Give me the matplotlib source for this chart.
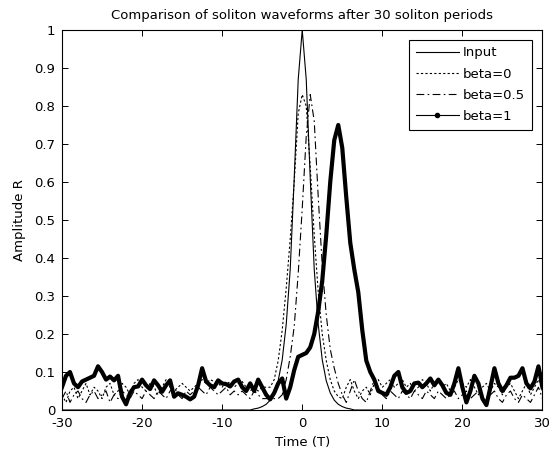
import matplotlib
matplotlib.use("Agg")
import matplotlib.pyplot as plt
from matplotlib.lines import Line2D
import numpy as np

plt.rcParams['font.family'] = ['DejaVu Sans']

# time axis, -30..30 in steps of 0.5
time = np.linspace(-30, 30, 121)

# values, one row per 5 time units
input_pulse = [
    0, 0, 0, 0, 0, 0, 0, 0, 0, 0,
    0, 0, 0, 0, 0, 0, 0, 0, 0, 0,
    0, 0, 0, 0, 0, 0, 0, 0, 0, 0,
    0, 0, 0, 0, 0, 0, 0, 0, 0, 0,
    0, 0, 0, 0, 0, 0, 0, 0.0, 0.003, 0.005,
    0.009, 0.015, 0.026, 0.045, 0.077, 0.132, 0.225, 0.37, 0.61, 0.87,
    1.0, 0.87, 0.61, 0.37, 0.225, 0.132, 0.077, 0.045, 0.026, 0.015,
    0.009, 0.005, 0.003, 0.0, 0, 0, 0, 0, 0, 0,
    0, 0, 0, 0, 0, 0, 0, 0, 0, 0,
    0, 0, 0, 0, 0, 0, 0, 0, 0, 0,
    0, 0, 0, 0, 0, 0, 0, 0, 0, 0,
    0, 0, 0, 0, 0, 0, 0, 0, 0, 0,
    0,
]

beta0 = [
    0.04, 0.02, 0.05, 0.06, 0.03, 0.05, 0.07, 0.04, 0.06, 0.05,
    0.03, 0.06, 0.07, 0.04, 0.05, 0.07, 0.06, 0.04, 0.07, 0.08,
    0.06, 0.05, 0.07, 0.06, 0.04, 0.06, 0.08, 0.06, 0.05, 0.06,
    0.07, 0.06, 0.05, 0.06, 0.07, 0.08, 0.07, 0.08, 0.075, 0.07,
    0.06, 0.075, 0.07, 0.06, 0.07, 0.075, 0.06, 0.05, 0.06, 0.05,
    0.06, 0.06, 0.06, 0.08, 0.13, 0.21, 0.32, 0.45, 0.60, 0.78,
    0.83, 0.80, 0.64, 0.46, 0.31, 0.20, 0.13, 0.08, 0.05, 0.035,
    0.03, 0.06, 0.08, 0.05, 0.03, 0.05, 0.06, 0.04, 0.07, 0.08,
    0.06, 0.07, 0.08, 0.06, 0.07, 0.08, 0.06, 0.07, 0.05, 0.06,
    0.08, 0.07, 0.05, 0.07, 0.08, 0.06, 0.07, 0.05, 0.06, 0.08,
    0.07, 0.06, 0.08, 0.06, 0.04, 0.06, 0.07, 0.05, 0.07, 0.06,
    0.04, 0.06, 0.07, 0.05, 0.03, 0.05, 0.07, 0.04, 0.06, 0.08,
    0.05,
]

beta05 = [
    0.03, 0.05, 0.02, 0.04, 0.05, 0.03, 0.02, 0.04, 0.05, 0.03,
    0.04, 0.05, 0.02, 0.04, 0.03, 0.05, 0.04, 0.03, 0.05, 0.04,
    0.03, 0.05, 0.04, 0.03, 0.05, 0.04, 0.03, 0.05, 0.06, 0.04,
    0.03, 0.05, 0.04, 0.05, 0.06, 0.05, 0.04, 0.06, 0.05, 0.04,
    0.05, 0.06, 0.04, 0.05, 0.04, 0.05, 0.04, 0.03, 0.05, 0.04,
    0.03, 0.03, 0.03, 0.03, 0.03, 0.04, 0.08, 0.14, 0.22, 0.36,
    0.53, 0.72, 0.83, 0.76, 0.56, 0.38, 0.25, 0.16, 0.11, 0.07,
    0.04, 0.02, 0.05, 0.08, 0.05, 0.03, 0.02, 0.05, 0.08, 0.06,
    0.04, 0.03, 0.05, 0.04, 0.03, 0.05, 0.04, 0.03, 0.05, 0.04,
    0.03, 0.05, 0.04, 0.03, 0.05, 0.04, 0.03, 0.04, 0.05, 0.03,
    0.04, 0.05, 0.03, 0.04, 0.05, 0.03, 0.02, 0.04, 0.05, 0.03,
    0.02, 0.04, 0.05, 0.03, 0.02, 0.04, 0.03, 0.02, 0.04, 0.06,
    0.03,
]

beta1 = [
    0.060, 0.090, 0.100, 0.070, 0.060, 0.075, 0.080, 0.085, 0.090, 0.115,
    0.100, 0.080, 0.088, 0.078, 0.090, 0.035, 0.015, 0.045, 0.060, 0.062,
    0.080, 0.065, 0.055, 0.078, 0.065, 0.048, 0.065, 0.078, 0.035, 0.044,
    0.040, 0.035, 0.028, 0.035, 0.065, 0.110, 0.075, 0.065, 0.060, 0.078,
    0.070, 0.068, 0.062, 0.075, 0.080, 0.060, 0.050, 0.070, 0.050, 0.080,
    0.060, 0.040, 0.028, 0.045, 0.070, 0.083, 0.030, 0.060, 0.105, 0.140,
    0.145, 0.150, 0.165, 0.200, 0.260, 0.340, 0.460, 0.600, 0.710, 0.750,
    0.690, 0.560, 0.440, 0.370, 0.310, 0.210, 0.130, 0.100, 0.080, 0.050,
    0.045, 0.040, 0.060, 0.090, 0.100, 0.060, 0.045, 0.050, 0.070, 0.072,
    0.060, 0.070, 0.083, 0.065, 0.080, 0.065, 0.045, 0.040, 0.070, 0.110,
    0.060, 0.020, 0.050, 0.090, 0.070, 0.030, 0.013, 0.060, 0.110, 0.070,
    0.050, 0.065, 0.085, 0.085, 0.090, 0.110, 0.070, 0.057, 0.075, 0.115,
    0.060,
]

xticks = [-30, -20, -10, 0, 10, 20, 30]
yticks = [0, 0.1, 0.2, 0.3, 0.4, 0.5, 0.6, 0.7, 0.8, 0.9, 1]
ytick_labels = ['0', '0.1', '0.2', '0.3', '0.4', '0.5', '0.6', '0.7', '0.8', '0.9', '1']

fig = plt.figure(figsize=(5.5, 4.53), dpi=100)
ax = fig.add_axes([0.1127, 0.0949, 0.8736, 0.8389])

ax.plot(time, input_pulse, color='k', lw=0.8)
ax.plot(time, beta0, color='k', lw=0.8, dashes=(2, 2))
ax.plot(time, beta05, color='k', lw=0.8, dashes=(7, 3, 1.5, 3))
ax.plot(time, beta1, color='k', lw=3.0, solid_joinstyle='round')

ax.set_xlim(-30, 30)
ax.set_ylim(0, 1)
ax.set_xticks(xticks)
ax.set_xticklabels([str(t) for t in xticks])
ax.set_yticks(yticks)
ax.set_yticklabels(ytick_labels)
ax.tick_params(direction='in', length=4, width=0.7, top=True, right=True,
               labelsize=9.5, pad=5)
for s in ax.spines.values():
    s.set_linewidth(0.8)

ax.set_title('Comparison of soliton waveforms after 30 soliton periods', fontsize=9.5, pad=8)
ax.set_xlabel('Time (T)', fontsize=9.5, labelpad=4)
ax.set_ylabel('Amplitude R', fontsize=9.5, labelpad=6)

handles = [
    Line2D([], [], color='k', lw=0.8),
    Line2D([], [], color='k', lw=0.8, dashes=(2, 2)),
    Line2D([], [], color='k', lw=0.8, dashes=(7, 3, 1.5, 3)),
    Line2D([], [], color='k', lw=0.8, marker='.', ms=6, markevery=[1]),
]
labels = ['Input', 'beta=0', 'beta=0.5', 'beta=1']
leg = ax.legend(handles, labels, loc='upper right', bbox_to_anchor=(0.978, 0.974),
                borderaxespad=0, fancybox=False, edgecolor='k', fontsize=9.5,
                handlelength=3.3, labelspacing=0.62, handletextpad=0.3,
                borderpad=0.5, framealpha=1)
leg.get_frame().set_linewidth(0.8)

fig.savefig('out.png', dpi=100, facecolor='white')
